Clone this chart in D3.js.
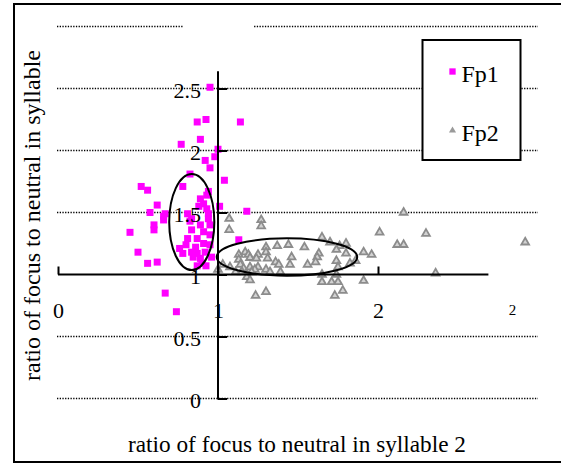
<!DOCTYPE html>
<html>
<head>
<meta charset="utf-8">
<script src="https://cdn.jsdelivr.net/npm/d3@7"></script>
<style>
body { margin: 0; background: white; }
text { font-family: "Liberation Serif", "Times New Roman", serif; fill: black; }
</style>
</head>
<body>
<script>
//data: [ratio syllable 2, ratio syllable 1]
var fp1 = [
    [0.95, 2.51], [0.87, 2.23], [0.925, 2.25], [1.14, 2.23], [0.89, 2.09], [0.77, 2.05],
    [1.00, 2.01], [0.92, 1.92], [0.98, 1.95], [0.95, 1.86], [0.825, 1.81], [1.04, 1.76],
    [0.52, 1.71], [0.56, 1.68], [0.78, 1.71], [0.62, 1.56], [0.575, 1.50], [0.66, 1.47],
    [0.60, 1.40], [0.60, 1.36], [0.45, 1.34], [0.50, 1.18], [0.56, 1.09], [0.62, 1.10],
    [0.67, 0.85], [0.74, 0.70], [1.01, 1.55], [1.13, 1.28], [1.18, 1.51], [0.94, 1.67],
    [0.89, 1.61], [0.91, 1.57], [0.88, 1.55], [0.93, 1.53], [0.94, 1.49], [0.67, 1.49],
    [0.66, 1.44], [0.94, 1.45], [0.825, 1.43], [0.89, 1.40], [0.95, 1.32], [0.835, 1.36],
    [0.81, 1.29], [0.87, 1.29], [0.91, 1.345], [0.91, 1.25], [0.86, 1.22], [0.80, 1.24],
    [0.76, 1.21], [0.78, 1.17], [0.835, 1.18], [0.87, 1.17], [0.89, 1.13], [0.90, 1.09],
    [0.845, 1.14], [0.92, 1.18], [0.95, 1.24], [0.96, 1.14], [0.93, 1.64], [0.81, 1.49],
    [0.835, 1.45], [0.95, 1.40], [0.925, 1.07], [0.87, 1.07]
];

var fp2 = [
    [1.07, 1.45], [1.07, 1.36], [1.27, 1.44], [1.27, 1.39], [1.30, 1.22], [1.37, 1.23],
    [1.44, 1.24], [1.54, 1.22], [1.13, 1.16], [1.13, 1.12], [1.17, 1.18], [1.19, 1.16],
    [1.20, 1.135], [1.25, 1.16], [1.24, 1.13], [1.30, 1.18], [1.31, 1.13], [1.46, 1.14],
    [1.03, 1.08], [1.075, 1.06], [1.14, 1.08], [1.16, 1.05], [1.20, 1.06], [1.25, 1.06],
    [1.23, 1.04], [1.36, 1.10], [1.38, 1.08], [1.30, 1.04], [1.325, 1.02], [1.45, 1.08],
    [1.56, 1.08], [1.00, 1.04], [1.11, 1.02], [1.15, 1.02], [1.21, 1.02], [1.39, 1.02],
    [1.18, 0.98], [1.20, 0.955], [1.30, 0.86], [1.235, 0.83], [2.16, 1.50], [2.01, 1.34],
    [1.65, 1.30], [1.70, 1.26], [1.76, 1.23], [1.74, 1.20], [1.80, 1.25], [2.12, 1.24],
    [2.16, 1.24], [1.91, 1.18], [1.96, 1.16], [1.63, 1.17], [1.62, 1.14], [1.80, 1.17],
    [1.61, 1.10], [1.74, 1.11], [1.825, 1.09], [1.86, 1.11], [1.75, 1.06], [1.65, 1.00],
    [1.65, 0.94], [1.71, 0.94], [1.75, 0.94], [1.74, 1.00], [1.91, 0.95], [1.78, 0.87],
    [1.73, 0.83], [2.30, 1.33], [2.36, 1.01], [2.92, 1.26]
];

var yTicks = [0, 0.5, 1, 1.5, 2, 2.5];
var xTicks = [0, 1, 2];
var gridValues = [0, 0.5, 1.5, 2, 2.5, 3];
var seriesNames = ["Fp1", "Fp2"];

//the two hand drawn ellipses, in data units
var ellipses = [
    {cx: 0.836, cy: 1.423, rx: 0.141, ry: 0.387},
    {cx: 1.431, cy: 1.141, rx: 0.439, ry: 0.151}
];

var width = 561;
var height = 464;

var svg = d3.select("body").append("svg")
    .attr("width", width)
    .attr("height", height);

//scales: one unit is 160px across, 124px up
var x = d3.scaleLinear().domain([0, 1]).range([58, 218]);
var y = d3.scaleLinear().domain([0, 1]).range([398.5, 274.5]);

//frame
svg.append("rect")
    .attr("x", 14).attr("y", 4)
    .attr("width", 560).attr("height", 458)
    .attr("fill", "white")
    .attr("stroke", "black")
    .attr("stroke-width", 2);

//dotted gridlines
svg.selectAll(".grid")
    .data(gridValues)
    .enter()
    .append("line")
    .attr("class", "grid")
    .attr("x1", x(0) - 1)
    .attr("x2", x(3))
    .attr("y1", function(d){return y(d);})
    .attr("y2", function(d){return y(d);})
    .attr("stroke", "black")
    .attr("stroke-width", 1.3)
    .attr("stroke-dasharray", "1.3,1.4");

//white gap in the top gridline
svg.append("rect")
    .attr("x", 183).attr("y", y(3) - 6)
    .attr("width", 71).attr("height", 12)
    .attr("fill", "white");

//points
svg.selectAll(".fp1")
    .data(fp1)
    .enter()
    .append("path")
    .attr("class", "fp1")
    .attr("d", d3.symbol(d3.symbolSquare, 49))
    .attr("transform", function(d){return "translate(" + x(d[0]) + "," + y(d[1]) + ")";})
    .attr("fill", "#ff00ff");

svg.selectAll(".fp2")
    .data(fp2)
    .enter()
    .append("path")
    .attr("class", "fp2")
    .attr("d", d3.symbol(d3.symbolTriangle, 26))
    .attr("transform", function(d){return "translate(" + x(d[0]) + "," + y(d[1]) + ")";})
    .attr("fill", "#d2d2d2")
    .attr("stroke", "#8c8c8c")
    .attr("stroke-width", 1.8);

//y axis, crossing the x axis at 1
var yAxis = svg.append("g")
    .attr("transform", "translate(" + x(1) + ",0)")
    .call(d3.axisRight(y).tickValues(yTicks).tickSize(9).tickPadding(0)
        .tickFormat(function(d){return String(d);}));
yAxis.select(".domain").remove();
yAxis.selectAll("line").attr("stroke-width", 2);
yAxis.selectAll("text")
    .attr("x", -17)
    .attr("dy", "0.42em")
    .attr("text-anchor", "end")
    .style("font-size", "22px");

svg.append("line")
    .attr("x1", x(1)).attr("x2", x(1))
    .attr("y1", y(0) + 1).attr("y2", y(2.64))
    .attr("stroke", "black")
    .attr("stroke-width", 2);

//x axis at y = 1
var xAxis = svg.append("g")
    .attr("transform", "translate(0," + y(1) + ")")
    .call(d3.axisTop(x).tickValues(xTicks).tickSize(8)
        .tickFormat(function(d){return String(d);}));
xAxis.select(".domain").remove();
xAxis.selectAll("line").attr("stroke-width", 2);
xAxis.selectAll("text")
    .attr("y", 43)
    .attr("dy", 0)
    .style("font-size", "22px");

svg.append("line")
    .attr("x1", x(0)).attr("x2", x(2.69))
    .attr("y1", y(1)).attr("y2", y(1))
    .attr("stroke", "black")
    .attr("stroke-width", 2);

//stray small label at the right end
svg.append("text")
    .attr("x", x(2.84))
    .attr("y", y(1) + 40)
    .attr("text-anchor", "middle")
    .style("font-size", "15px")
    .text("2");

//ellipses
svg.selectAll(".ellipse")
    .data(ellipses)
    .enter()
    .append("ellipse")
    .attr("class", "ellipse")
    .attr("cx", function(d){return x(d.cx);})
    .attr("cy", function(d){return y(d.cy);})
    .attr("rx", function(d){return x(d.rx) - x(0);})
    .attr("ry", function(d){return y(0) - y(d.ry);})
    .attr("fill", "none")
    .attr("stroke", "black")
    .attr("stroke-width", 2);

//legend
var legend = svg.append("g")
    .attr("transform", "translate(422.5,40)");

legend.append("rect")
    .attr("width", 98)
    .attr("height", 120)
    .attr("fill", "white")
    .attr("stroke", "black")
    .attr("stroke-width", 2);

legend.selectAll(".legendMark")
    .data(seriesNames)
    .enter()
    .append("path")
    .attr("class", "legendMark")
    .attr("d", function(d, i){
        return d3.symbol(i == 0 ? d3.symbolSquare : d3.symbolTriangle, i == 0 ? 40 : 22)();
    })
    .attr("transform", function(d, i){return "translate(30," + (31.5 + i * 59) + ")";})
    .attr("fill", function(d, i){return i == 0 ? "#ff00ff" : "#9a9a9a";});

legend.selectAll(".legendText")
    .data(seriesNames)
    .enter()
    .append("text")
    .attr("class", "legendText")
    .attr("x", 39)
    .attr("y", function(d, i){return 41.5 + i * 59;})
    .style("font-size", "24px")
    .text(function(d){return d;});

//axis titles
svg.append("text")
    .attr("x", 297)
    .attr("y", 452)
    .attr("text-anchor", "middle")
    .attr("textLength", 338)
    .attr("lengthAdjust", "spacingAndGlyphs")
    .style("font-size", "23px")
    .text("ratio of focus to neutral in syllable 2");

svg.append("text")
    .attr("transform", "translate(40,215.5) rotate(-90)")
    .attr("text-anchor", "middle")
    .attr("textLength", 331)
    .attr("lengthAdjust", "spacingAndGlyphs")
    .style("font-size", "23px")
    .text("ratio of focus to neutral in syllable");
</script>
</body>
</html>
